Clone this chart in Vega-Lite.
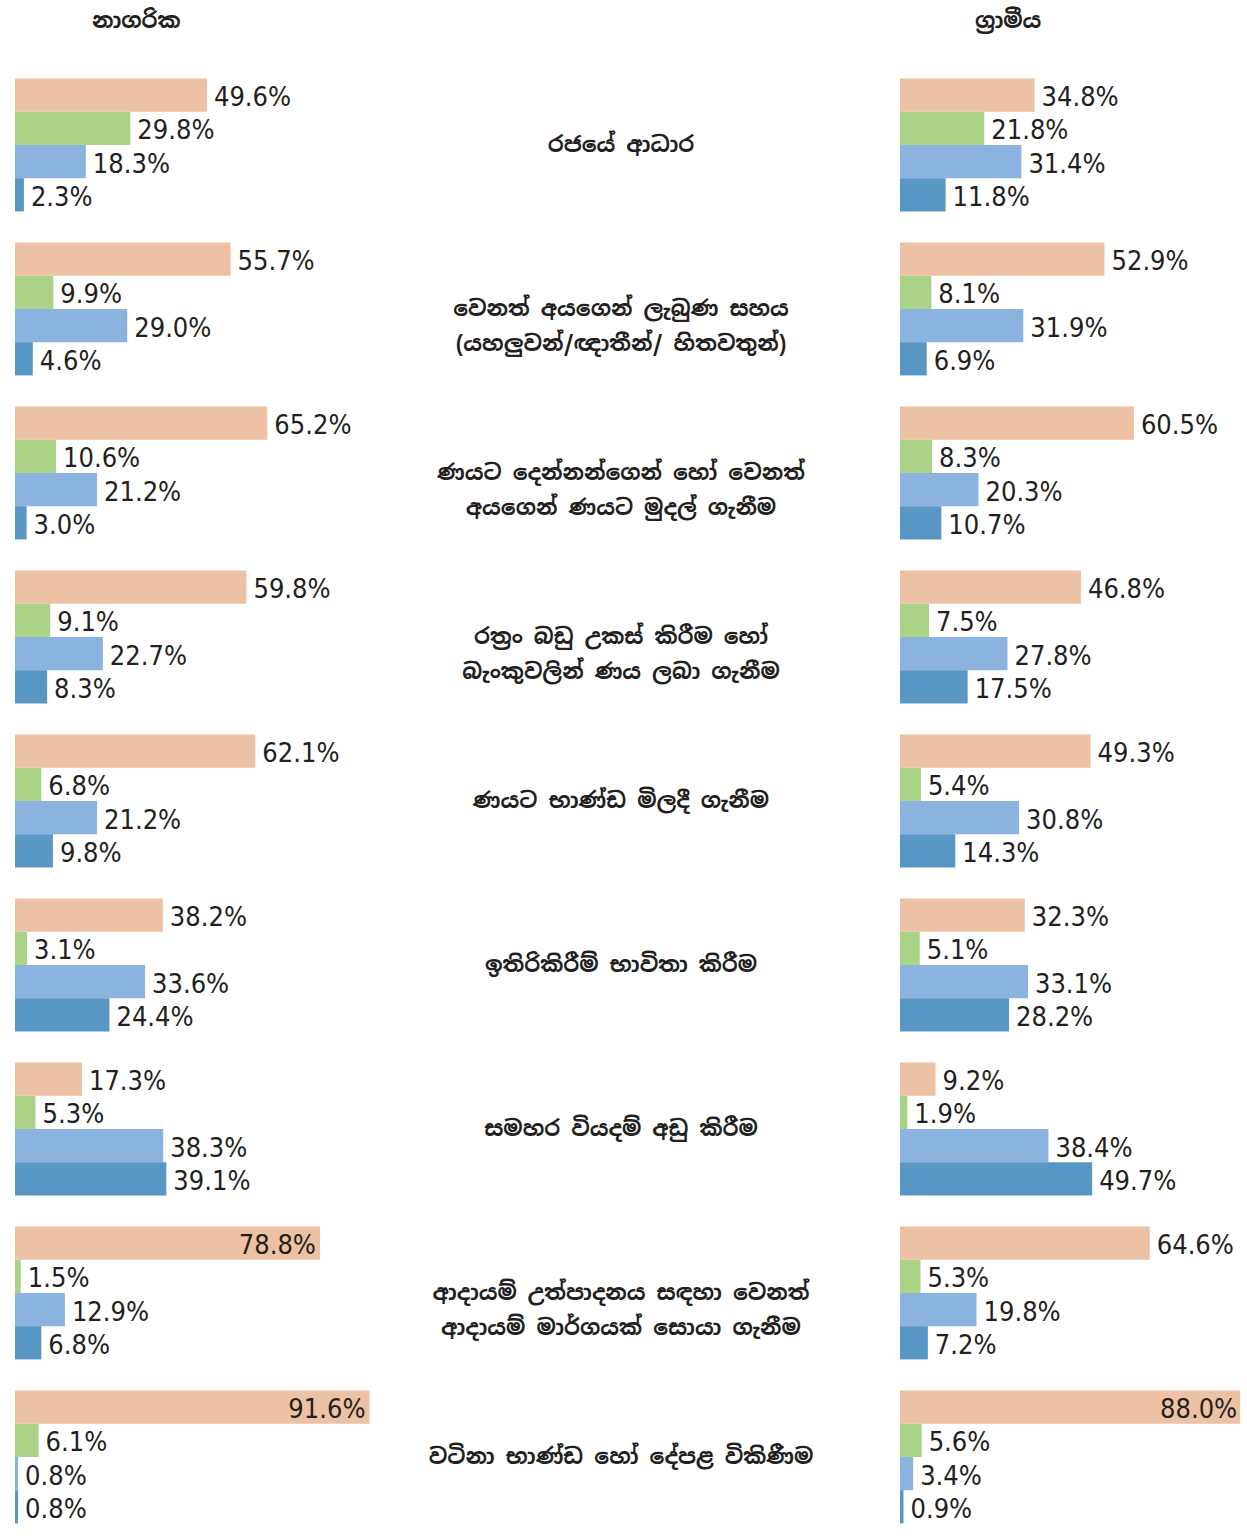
{
  "$schema": "https://vega.github.io/schema/vega-lite/v6.json",
  "background": "white",
  "padding": {"left": 15, "top": 10, "right": 0, "bottom": 0},
  "spacing": 0,
  "config": {
    "view": {"stroke": null},
    "title": {"font": "Noto Sans Sinhala, Noto Sans, sans-serif", "fontSize": 22, "fontWeight": "bold", "color": "#231F20", "anchor": "start", "offset": 30}
  },
  "datasets": {
    "d": [
      {"area": "urban", "cat": "1", "series": "s1", "v": 49.6},
      {"area": "urban", "cat": "1", "series": "s2", "v": 29.8},
      {"area": "urban", "cat": "1", "series": "s3", "v": 18.3},
      {"area": "urban", "cat": "1", "series": "s4", "v": 2.3},
      {"area": "urban", "cat": "2", "series": "s1", "v": 55.7},
      {"area": "urban", "cat": "2", "series": "s2", "v": 9.9},
      {"area": "urban", "cat": "2", "series": "s3", "v": 29.0},
      {"area": "urban", "cat": "2", "series": "s4", "v": 4.6},
      {"area": "urban", "cat": "3", "series": "s1", "v": 65.2},
      {"area": "urban", "cat": "3", "series": "s2", "v": 10.6},
      {"area": "urban", "cat": "3", "series": "s3", "v": 21.2},
      {"area": "urban", "cat": "3", "series": "s4", "v": 3.0},
      {"area": "urban", "cat": "4", "series": "s1", "v": 59.8},
      {"area": "urban", "cat": "4", "series": "s2", "v": 9.1},
      {"area": "urban", "cat": "4", "series": "s3", "v": 22.7},
      {"area": "urban", "cat": "4", "series": "s4", "v": 8.3},
      {"area": "urban", "cat": "5", "series": "s1", "v": 62.1},
      {"area": "urban", "cat": "5", "series": "s2", "v": 6.8},
      {"area": "urban", "cat": "5", "series": "s3", "v": 21.2},
      {"area": "urban", "cat": "5", "series": "s4", "v": 9.8},
      {"area": "urban", "cat": "6", "series": "s1", "v": 38.2},
      {"area": "urban", "cat": "6", "series": "s2", "v": 3.1},
      {"area": "urban", "cat": "6", "series": "s3", "v": 33.6},
      {"area": "urban", "cat": "6", "series": "s4", "v": 24.4},
      {"area": "urban", "cat": "7", "series": "s1", "v": 17.3},
      {"area": "urban", "cat": "7", "series": "s2", "v": 5.3},
      {"area": "urban", "cat": "7", "series": "s3", "v": 38.3},
      {"area": "urban", "cat": "7", "series": "s4", "v": 39.1},
      {"area": "urban", "cat": "8", "series": "s1", "v": 78.8},
      {"area": "urban", "cat": "8", "series": "s2", "v": 1.5},
      {"area": "urban", "cat": "8", "series": "s3", "v": 12.9},
      {"area": "urban", "cat": "8", "series": "s4", "v": 6.8},
      {"area": "urban", "cat": "9", "series": "s1", "v": 91.6},
      {"area": "urban", "cat": "9", "series": "s2", "v": 6.1},
      {"area": "urban", "cat": "9", "series": "s3", "v": 0.8},
      {"area": "urban", "cat": "9", "series": "s4", "v": 0.8},
      {"area": "rural", "cat": "1", "series": "s1", "v": 34.8},
      {"area": "rural", "cat": "1", "series": "s2", "v": 21.8},
      {"area": "rural", "cat": "1", "series": "s3", "v": 31.4},
      {"area": "rural", "cat": "1", "series": "s4", "v": 11.8},
      {"area": "rural", "cat": "2", "series": "s1", "v": 52.9},
      {"area": "rural", "cat": "2", "series": "s2", "v": 8.1},
      {"area": "rural", "cat": "2", "series": "s3", "v": 31.9},
      {"area": "rural", "cat": "2", "series": "s4", "v": 6.9},
      {"area": "rural", "cat": "3", "series": "s1", "v": 60.5},
      {"area": "rural", "cat": "3", "series": "s2", "v": 8.3},
      {"area": "rural", "cat": "3", "series": "s3", "v": 20.3},
      {"area": "rural", "cat": "3", "series": "s4", "v": 10.7},
      {"area": "rural", "cat": "4", "series": "s1", "v": 46.8},
      {"area": "rural", "cat": "4", "series": "s2", "v": 7.5},
      {"area": "rural", "cat": "4", "series": "s3", "v": 27.8},
      {"area": "rural", "cat": "4", "series": "s4", "v": 17.5},
      {"area": "rural", "cat": "5", "series": "s1", "v": 49.3},
      {"area": "rural", "cat": "5", "series": "s2", "v": 5.4},
      {"area": "rural", "cat": "5", "series": "s3", "v": 30.8},
      {"area": "rural", "cat": "5", "series": "s4", "v": 14.3},
      {"area": "rural", "cat": "6", "series": "s1", "v": 32.3},
      {"area": "rural", "cat": "6", "series": "s2", "v": 5.1},
      {"area": "rural", "cat": "6", "series": "s3", "v": 33.1},
      {"area": "rural", "cat": "6", "series": "s4", "v": 28.2},
      {"area": "rural", "cat": "7", "series": "s1", "v": 9.2},
      {"area": "rural", "cat": "7", "series": "s2", "v": 1.9},
      {"area": "rural", "cat": "7", "series": "s3", "v": 38.4},
      {"area": "rural", "cat": "7", "series": "s4", "v": 49.7},
      {"area": "rural", "cat": "8", "series": "s1", "v": 64.6},
      {"area": "rural", "cat": "8", "series": "s2", "v": 5.3},
      {"area": "rural", "cat": "8", "series": "s3", "v": 19.8},
      {"area": "rural", "cat": "8", "series": "s4", "v": 7.2},
      {"area": "rural", "cat": "9", "series": "s1", "v": 88.0},
      {"area": "rural", "cat": "9", "series": "s2", "v": 5.6},
      {"area": "rural", "cat": "9", "series": "s3", "v": 3.4},
      {"area": "rural", "cat": "9", "series": "s4", "v": 0.9}
    ],
    "labels": [
      {"cat": "1", "text": "රජයේ ආධාර"},
      {"cat": "2", "text": "වෙනත් අයගෙන් ලැබුණ සහය\n(යහලුවන්/ඥාතීන්/ හිතවතුන්)"},
      {"cat": "3", "text": "ණයට දෙන්නන්ගෙන් හෝ වෙනත්\nඅයගෙන් ණයට මුදල් ගැනීම"},
      {"cat": "4", "text": "රත්‍රං බඩු උකස් කිරීම හෝ\nබැංකුවලින් ණය ලබා ගැනීම"},
      {"cat": "5", "text": "ණයට භාණ්ඩ මිලදී ගැනීම"},
      {"cat": "6", "text": "ඉතිරිකිරීම් භාවිතා කිරීම"},
      {"cat": "7", "text": "සමහර වියදම් අඩු කිරීම"},
      {"cat": "8", "text": "ආදායම් උත්පාදනය සඳහා වෙනත්\nආදායම් මාර්ගයක් සොයා ගැනීම"},
      {"cat": "9", "text": "වටිනා භාණ්ඩ හෝ දේපළ විකිණීම"}
    ]
  },
  "hconcat": [
    {
      "width": 387,
      "height": 1476,
      "title": {"text": "නාගරික", "dx": 77},
      "data": {"name": "d"},
      "transform": [
        {"filter": "datum.area === 'urban'"},
        {"calculate": "format(datum.v, '.1f') + '%'", "as": "label"}
      ],
      "encoding": {
        "y": {"field": "cat", "type": "ordinal", "axis": null, "scale": {"paddingInner": 0.19, "paddingOuter": 0.095}},
        "yOffset": {"field": "series", "type": "nominal", "sort": ["s1", "s2", "s3", "s4"], "scale": {"paddingInner": 0, "paddingOuter": 0}},
        "x": {"field": "v", "type": "quantitative", "axis": null, "scale": {"domain": [0, 100], "nice": false}}
      },
      "layer": [
        {
          "mark": {"type": "bar"},
          "encoding": {
            "color": {"field": "series", "type": "nominal", "legend": null, "scale": {"domain": ["s1", "s2", "s3", "s4"], "range": ["#EDC1A4", "#AAD388", "#8BB3DF", "#5896C3"]}}
          }
        },
        {
          "transform": [{"filter": "datum.v < 75"}],
          "mark": {"type": "text", "align": "left", "baseline": "middle", "dx": 7, "dy": 3, "font": "DejaVu Sans Condensed, sans-serif", "fontSize": 27, "color": "#231F20"},
          "encoding": {"text": {"field": "label", "type": "nominal"}}
        },
        {
          "transform": [{"filter": "datum.v >= 75"}],
          "mark": {"type": "text", "align": "right", "baseline": "middle", "dx": -4, "dy": 3, "font": "DejaVu Sans Condensed, sans-serif", "fontSize": 27, "color": "#231F20"},
          "encoding": {"text": {"field": "label", "type": "nominal"}}
        }
      ]
    },
    {
      "width": 498,
      "height": 1476,
      "title": {"text": " "},
      "data": {"name": "labels"},
      "mark": {"type": "text", "align": "center", "baseline": "middle", "lineBreak": "\n", "lineHeight": 35, "dx": -30, "font": "Noto Sans Sinhala, Noto Sans, sans-serif", "fontSize": 22, "fontWeight": "bold", "color": "#231F20"},
      "encoding": {
        "y": {"field": "cat", "type": "ordinal", "axis": null, "scale": {"paddingInner": 0.19, "paddingOuter": 0.095}},
        "text": {"field": "text", "type": "nominal"}
      }
    },
    {
      "width": 346,
      "height": 1476,
      "title": {"text": "ග්‍රාමීය", "dx": 75},
      "data": {"name": "d"},
      "transform": [
        {"filter": "datum.area === 'rural'"},
        {"calculate": "format(datum.v, '.1f') + '%'", "as": "label"}
      ],
      "encoding": {
        "y": {"field": "cat", "type": "ordinal", "axis": null, "scale": {"paddingInner": 0.19, "paddingOuter": 0.095}},
        "yOffset": {"field": "series", "type": "nominal", "sort": ["s1", "s2", "s3", "s4"], "scale": {"paddingInner": 0, "paddingOuter": 0}},
        "x": {"field": "v", "type": "quantitative", "axis": null, "scale": {"domain": [0, 89.5], "nice": false}}
      },
      "layer": [
        {
          "mark": {"type": "bar"},
          "encoding": {
            "color": {"field": "series", "type": "nominal", "legend": null, "scale": {"domain": ["s1", "s2", "s3", "s4"], "range": ["#EDC1A4", "#AAD388", "#8BB3DF", "#5896C3"]}}
          }
        },
        {
          "transform": [{"filter": "datum.v < 75"}],
          "mark": {"type": "text", "align": "left", "baseline": "middle", "dx": 7, "dy": 3, "font": "DejaVu Sans Condensed, sans-serif", "fontSize": 27, "color": "#231F20"},
          "encoding": {"text": {"field": "label", "type": "nominal"}}
        },
        {
          "transform": [{"filter": "datum.v >= 75"}],
          "mark": {"type": "text", "align": "right", "baseline": "middle", "dx": -3, "dy": 3, "font": "DejaVu Sans Condensed, sans-serif", "fontSize": 27, "color": "#231F20"},
          "encoding": {"text": {"field": "label", "type": "nominal"}}
        }
      ]
    }
  ]
}
